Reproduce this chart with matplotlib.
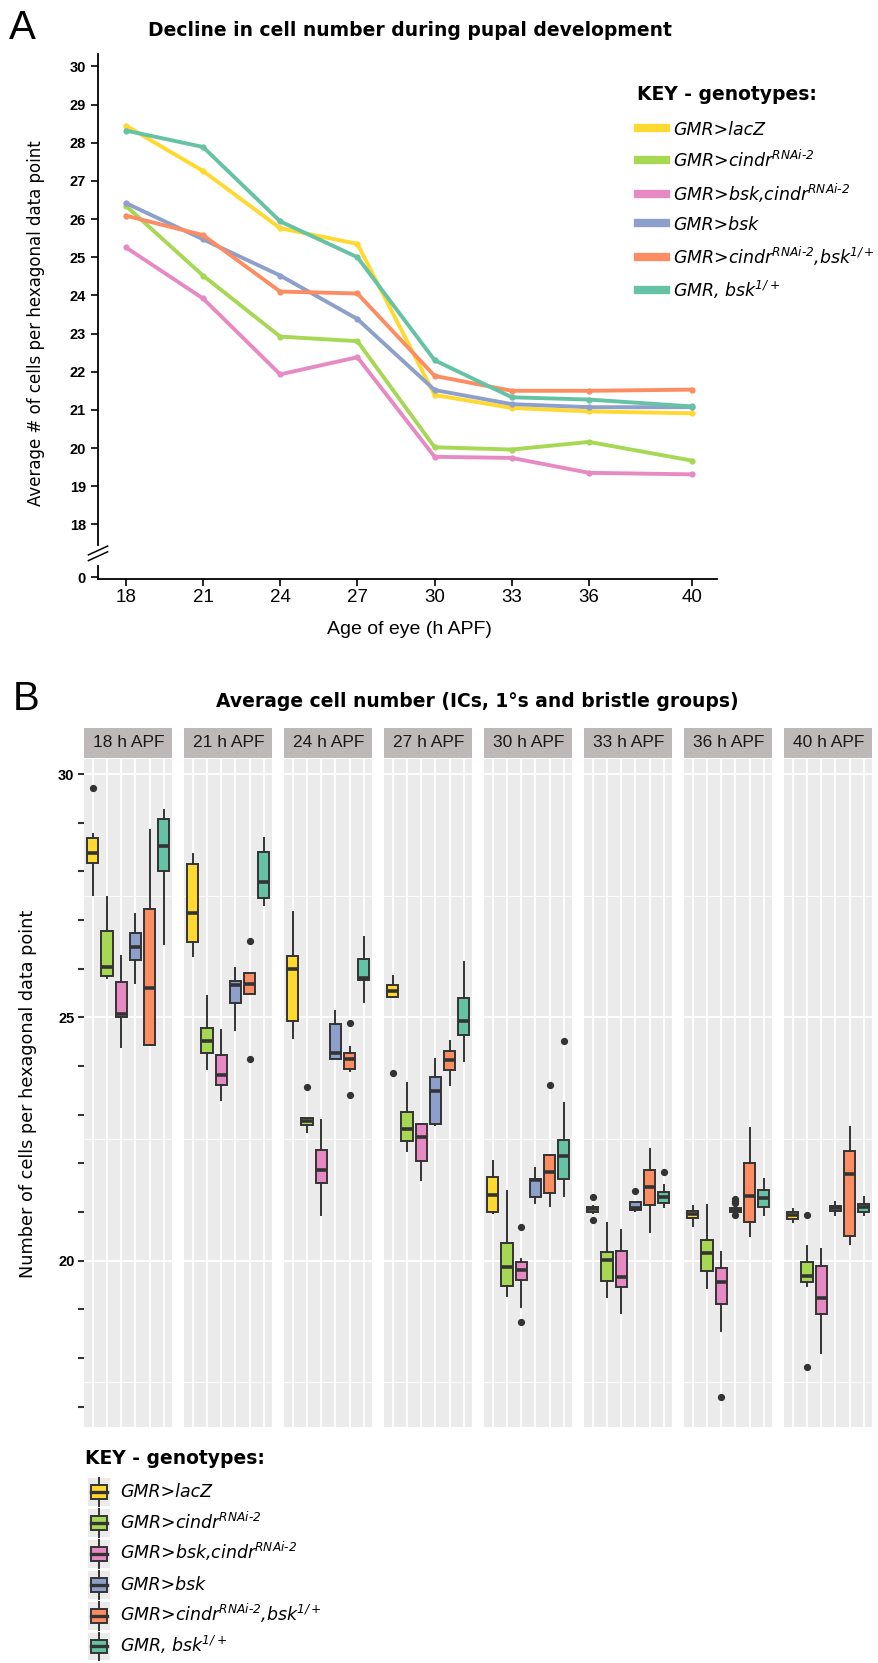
import numpy as np
import matplotlib
matplotlib.use("Agg")
import matplotlib.pyplot as plt
from matplotlib import font_manager
from matplotlib.lines import Line2D
from matplotlib.patches import Rectangle, Patch
from matplotlib.legend_handler import HandlerBase

plt.rcParams['font.family'] = ['Liberation Sans', 'DejaVu Sans']
plt.rcParams['mathtext.fontset'] = 'custom'
plt.rcParams['mathtext.it'] = 'DejaVu Sans:italic'
plt.rcParams['mathtext.rm'] = 'DejaVu Sans:italic'
plt.rcParams['mathtext.bf'] = 'DejaVu Sans:bold'

# condensed font for the panel A x tick labels if it is there
_names = {f.name for f in font_manager.fontManager.ttflist}
narrow = 'Liberation Sans Narrow' if 'Liberation Sans Narrow' in _names else 'Liberation Sans'

# ---- data ----
times = [18, 21, 24, 27, 30, 33, 36, 40]
genotypes = ["GMR>lacZ", "GMR>cindr$^{RNAi\u20102}$", "GMR>bsk,cindr$^{RNAi\u20102}$",
             "GMR>bsk", "GMR>cindr$^{RNAi\u20102}$,bsk$^{1/+}$", "GMR, bsk$^{1/+}$"]
colors = ['#FFD92F', '#A6D854', '#E78AC3', '#8DA0CB', '#FC8D62', '#66C2A5']

# panel A: mean cells per hexagonal data point
mean_lacz = [28.45, 27.26, 25.76, 25.35, 21.39, 21.05, 20.96, 20.91]
mean_cindr = [26.35, 24.52, 22.92, 22.80, 20.02, 19.96, 20.16, 19.67]
mean_bsk_cindr = [25.26, 23.92, 21.93, 22.38, 19.77, 19.74, 19.35, 19.31]
mean_bsk = [26.42, 25.47, 24.52, 23.38, 21.52, 21.15, 21.07, 21.07]
mean_cindr_bsk = [26.09, 25.58, 24.10, 24.05, 21.89, 21.50, 21.50, 21.53]
mean_gmr_bsk = [28.32, 27.89, 25.94, 25.00, 22.30, 21.33, 21.27, 21.09]
means = [mean_lacz, mean_cindr, mean_bsk_cindr, mean_bsk, mean_cindr_bsk, mean_gmr_bsk]

# panel B: boxplot stats per time point [whislo, q1, med, q3, whishi]
box_lacz = [[27.52, 28.18, 28.37, 28.68, 28.77], [26.27, 26.54, 27.14, 28.16, 28.35],
            [24.58, 24.92, 25.99, 26.26, 27.17], [25.41, 25.41, 25.54, 25.66, 25.86],
            [20.98, 21.01, 21.36, 21.72, 22.04], [20.98, 21.01, 21.06, 21.10, 21.13],
            [20.72, 20.88, 20.96, 21.03, 21.13], [20.79, 20.86, 20.94, 21.01, 21.07]]
box_cindr = [[25.82, 25.85, 26.04, 26.78, 27.47], [23.93, 24.26, 24.51, 24.79, 25.44],
             [22.65, 22.78, 22.87, 22.94, 22.94], [22.26, 22.46, 22.70, 23.06, 23.66],
             [19.27, 19.49, 19.88, 20.36, 21.43], [19.25, 19.59, 20.01, 20.18, 20.78],
             [19.45, 19.79, 20.16, 20.42, 21.15], [19.49, 19.56, 19.68, 19.97, 20.31]]
box_bsk_cindr = [[24.40, 25.00, 25.07, 25.72, 26.26], [23.31, 23.62, 23.81, 24.22, 24.75],
                 [20.93, 21.60, 21.87, 22.27, 22.89], [21.65, 22.05, 22.54, 22.80, 22.82],
                 [19.05, 19.60, 19.81, 19.97, 20.03], [18.92, 19.46, 19.66, 20.21, 20.64],
                 [18.55, 19.12, 19.56, 19.86, 20.18], [18.10, 18.90, 19.24, 19.90, 20.25]]
box_bsk = [[25.70, 26.17, 26.45, 26.73, 27.13], [24.75, 25.30, 25.66, 25.75, 26.01],
           [24.15, 24.15, 24.27, 24.86, 25.13], [22.78, 22.82, 23.48, 23.77, 24.14],
           [21.19, 21.31, 21.65, 21.68, 21.91], [21.03, 21.05, 21.08, 21.20, 21.20],
           [21.00, 21.00, 21.04, 21.08, 21.08], [20.95, 21.02, 21.08, 21.13, 21.20]]
box_cindr_bsk = [[24.44, 24.44, 25.61, 27.22, 28.85], [25.48, 25.49, 25.69, 25.92, 25.92],
                 [23.90, 23.93, 24.14, 24.26, 24.40], [23.61, 23.92, 24.12, 24.31, 24.51],
                 [21.12, 21.39, 21.82, 22.17, 22.17], [20.59, 21.15, 21.52, 21.87, 22.30],
                 [20.51, 20.79, 21.34, 22.01, 22.72], [20.34, 20.51, 21.79, 22.25, 22.75]]
box_gmr_bsk = [[26.51, 28.01, 28.53, 29.08, 29.27], [27.31, 27.46, 27.78, 28.40, 28.68],
               [25.32, 25.77, 25.82, 26.21, 26.65], [24.10, 24.64, 24.93, 25.40, 26.13],
               [21.33, 21.69, 22.15, 22.48, 23.25], [21.10, 21.19, 21.30, 21.42, 21.56],
               [20.94, 21.11, 21.29, 21.46, 21.69], [20.95, 21.01, 21.10, 21.16, 21.31]]
boxes = [box_lacz, box_cindr, box_bsk_cindr, box_bsk, box_cindr_bsk, box_gmr_bsk]

# outliers per time point
out_lacz = [[29.71], [], [], [23.85], [], [21.32, 20.84], [], []]
out_cindr = [[], [], [23.57], [], [], [], [], [20.95, 17.81]]
out_bsk_cindr = [[], [], [], [], [20.69, 18.74], [], [17.21], []]
out_bsk = [[], [], [], [], [], [21.44], [21.27, 21.23, 21.19, 20.93], []]
out_cindr_bsk = [[], [26.56, 24.14], [24.89, 23.40], [], [23.62], [], [], []]
out_gmr_bsk = [[], [], [], [], [24.51], [21.83], [], []]
outliers = [out_lacz, out_cindr, out_bsk_cindr, out_bsk, out_cindr_bsk, out_gmr_bsk]

W, H = 879, 1663


def fx(px):
    return px / W


def fy(py):
    return 1 - py / H


fig = plt.figure(figsize=(W / 100, H / 100), dpi=100)
dark = '#333333'
title_font = dict(family='DejaVu Sans', fontweight='bold', fontsize=13.5)
key_prop = {'family': 'DejaVu Sans', 'style': 'italic', 'size': 12.5}

# ================= Panel A =================
axA = fig.add_axes([fx(97.7), fy(579.3), fx(716.7) - fx(97.7), fy(54.2) - fy(579.3)])
for vals, c in zip(means, colors):
    axA.plot(times, vals, color=c, lw=2.8, marker='o', ms=3.5, solid_capstyle='round')

zero_pos = 16.61  # where the broken axis shows "0"
axA.set_xlim(16.91, 40.96)
axA.set_ylim(16.56, 30.32)
axA.set_xticks(times)
axA.set_xticklabels([str(t) for t in times], fontsize=13.5, family=narrow)
ytk = [zero_pos] + list(range(18, 31))
axA.set_yticks(ytk)
axA.set_yticklabels(['0'] + [str(v) for v in range(18, 31)], fontsize=10.5, fontweight='bold')
axA.tick_params(length=5, width=1.2, color='black')
axA.tick_params(axis='x', pad=2)
for s in ['top', 'right']:
    axA.spines[s].set_visible(False)
for s in ['left', 'bottom']:
    axA.spines[s].set_linewidth(1.3)

# axis break marks
ytr = axA.get_yaxis_transform()
axA.plot([0, 0], [17.0, 17.38], color='white', lw=3, transform=ytr, clip_on=False, zorder=5)
for off in [0.0, 0.15]:
    axA.plot([-0.015, 0.016], [17.05 + off, 17.28 + off], color='black', lw=1.1,
             transform=ytr, clip_on=False, zorder=6)

fig.text(fx(409), fy(630), "Age of eye (h APF)", ha='center', va='center', fontsize=14)
fig.text(fx(36), fy(323), "Average # of cells per hexagonal data point", rotation=90,
         ha='center', va='center', fontsize=12, family='DejaVu Sans')
fig.text(fx(410), fy(30), "Decline in cell number during pupal development",
         ha='center', va='center', **title_font)
fig.text(fx(9), fy(28), "A", ha='left', va='center', fontsize=29)

fig.text(fx(637), fy(95), "KEY - genotypes:", ha='left', va='center', **title_font)
hA = [Line2D([0], [0], color=c, lw=6) for c in colors]
legA = fig.legend(hA, genotypes, loc='upper left',
                  bbox_to_anchor=(fx(638), fy(121)), frameon=False, prop=key_prop,
                  handlelength=1.6, handleheight=1.0, handletextpad=0.4,
                  labelspacing=0.62, borderpad=0, borderaxespad=0)

# ================= Panel B =================
pos = np.arange(1, 7)
for i, t in enumerate(times):
    left = 84.3 + 100 * i
    ax = fig.add_axes([fx(left), fy(1426.7), 88 / W, fy(759) - fy(1426.7)])
    ax.set_facecolor('#EBEBEB')
    for g in [17.5, 22.5, 27.5]:
        ax.axhline(g, color='white', lw=0.6, zorder=0)
    for g in [20, 25, 30]:
        ax.axhline(g, color='white', lw=1.3, zorder=0)
    for p in pos:
        ax.axvline(p, color='white', lw=1.3, zorder=0)

    stats = []
    for k in range(6):
        lo, q1, med, q3, hi = boxes[k][i]
        stats.append(dict(whislo=lo, q1=q1, med=med, q3=q3, whishi=hi, fliers=outliers[k][i]))
    bp = ax.bxp(stats, positions=pos, widths=0.78, patch_artist=True, showcaps=False,
                boxprops=dict(edgecolor=dark, linewidth=1.4),
                whiskerprops=dict(color=dark, linewidth=1.4),
                medianprops=dict(color=dark, linewidth=2.6),
                flierprops=dict(marker='o', markerfacecolor=dark, markeredgecolor=dark,
                                markersize=4.2))
    for b, c in zip(bp['boxes'], colors):
        b.set_facecolor(c)

    ax.set_xlim(0.4, 6.6)
    ax.set_ylim(16.59, 30.31)
    ax.set_xticks([])
    for s in ax.spines.values():
        s.set_visible(False)
    ax.set_yticks(range(17, 31))
    if i == 0:
        ax.set_yticklabels([str(v) if v % 5 == 0 else '' for v in range(17, 31)],
                           fontsize=10.5, fontweight='bold')
        ax.tick_params(axis='y', length=4, width=1.5, color=dark, pad=3)
    else:
        ax.tick_params(axis='y', length=0, labelleft=False)

    # facet strip
    sh = 30 / 667.7
    ax.add_patch(Rectangle((0, 1.002), 1, sh, transform=ax.transAxes, facecolor='#BDB9B8',
                           edgecolor='none', clip_on=False))
    ax.text(0.5, 1.002 + sh / 2, f"{t} h APF", transform=ax.transAxes, ha='center',
            va='center', fontsize=12.5, color='#1a1a1a')

fig.text(fx(28), fy(1094), "Number of cells per hexagonal data point", rotation=90,
         ha='center', va='center', fontsize=12.7, family='DejaVu Sans')
fig.text(fx(477), fy(702), "Average cell number (ICs, 1°s and bristle groups)",
         ha='center', va='center', **title_font)
fig.text(fx(13), fy(699), "B", ha='left', va='center', fontsize=29)


class BoxKeyHandler(HandlerBase):
    def create_artists(self, legend, orig_handle, xdescent, ydescent, width, height,
                       fontsize, trans):
        x0, y0 = -xdescent, -ydescent
        cx = x0 + width / 2
        bg = Rectangle((x0, y0), width, height, facecolor='#EBEBEB', edgecolor='none',
                       transform=trans)
        wl = Line2D([cx, cx], [y0, y0 + height], color=dark, lw=1.4, transform=trans)
        bw, bh = width * 0.75, height * 0.5
        box = Rectangle((cx - bw / 2, y0 + (height - bh) / 2), bw, bh,
                        facecolor=orig_handle.get_facecolor(), edgecolor=dark, lw=1.4,
                        transform=trans)
        med = Line2D([cx - bw / 2, cx + bw / 2], [y0 + height / 2] * 2, color=dark,
                     lw=2.4, transform=trans)
        return [bg, wl, box, med]


fig.text(fx(85), fy(1458), "KEY - genotypes:", ha='left', va='center', **title_font)
hB = [Patch(facecolor=c) for c in colors]
legB = fig.legend(hB, genotypes, loc='upper left',
                  bbox_to_anchor=(fx(88), fy(1478)), frameon=False, prop=key_prop,
                  handler_map={Patch: BoxKeyHandler()},
                  handlelength=1.27, handleheight=2.1, handletextpad=0.58,
                  labelspacing=0.17, borderpad=0, borderaxespad=0)

fig.savefig("out.png", dpi=100)
